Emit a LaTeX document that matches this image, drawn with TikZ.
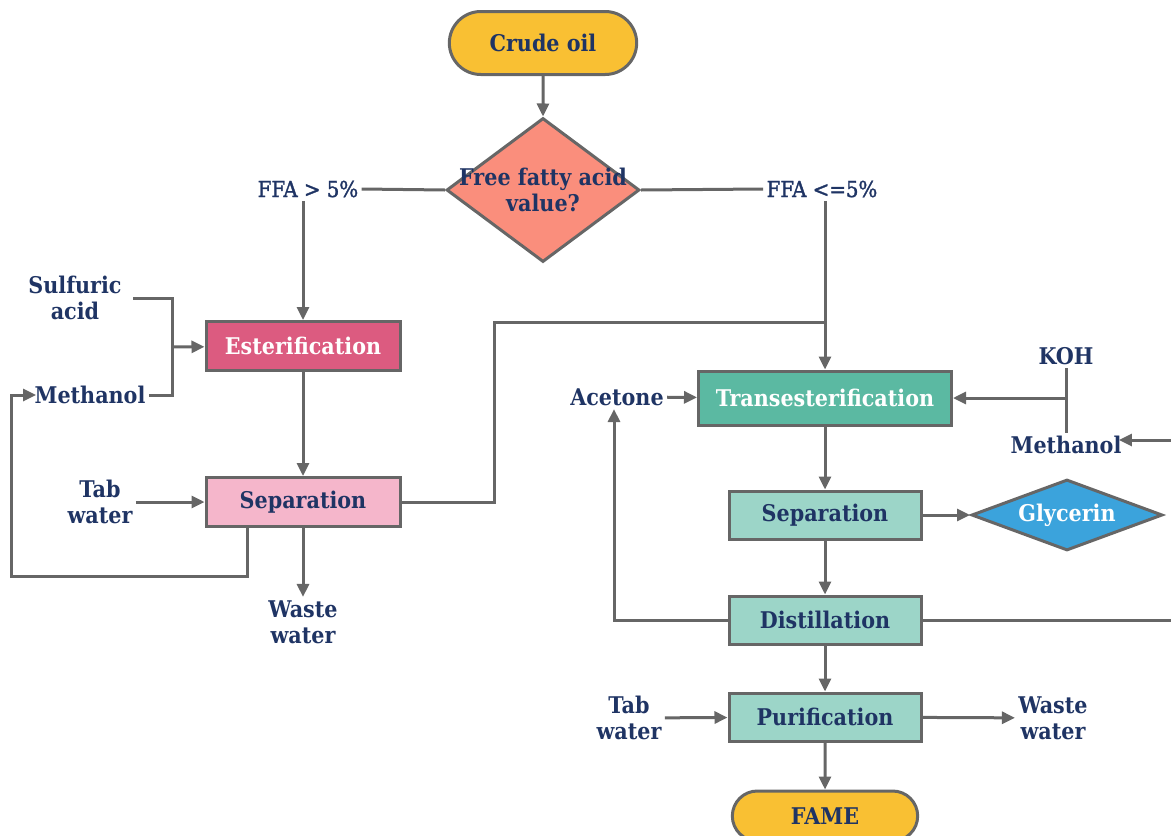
\documentclass[tikz,border=0pt]{standalone}
\usepackage{fontspec}
\setmainfont{DejaVu Serif Condensed}
\newfontfamily\medfont{DejaVu Serif Condensed}[FakeBold=1.5]
\usetikzlibrary{shapes, arrows.meta}

\definecolor{navy}{HTML}{1F3464}
\definecolor{linegray}{HTML}{666666}
\definecolor{oilyellow}{HTML}{F9C033}
\definecolor{salmon}{HTML}{FA8E7C}
\definecolor{rosered}{HTML}{DC5B80}
\definecolor{lightrose}{HTML}{F5B6CB}
\definecolor{teal}{HTML}{5BB9A2}
\definecolor{lightteal}{HTML}{9CD5C8}
\definecolor{skyblue}{HTML}{3BA3DC}

\newcommand\lbltxt{\fontsize{23}{26}\selectfont\bfseries}

\tikzset{
  flow/.style={draw=linegray, line width=3pt},
  arr/.style={flow, -{Triangle[length=13pt,width=12pt]}},
  box/.style={draw=linegray, line width=3pt, minimum width=194pt, minimum height=49pt, font=\lbltxt, text=navy},
  term/.style={box, rounded rectangle, minimum height=63pt},
  choice/.style={draw=linegray, line width=3pt, diamond, inner sep=0pt},
  lbl/.style={text=navy, align=center, font=\lbltxt},
  cond/.style={text=navy, font=\medfont\fontsize{22}{26}\selectfont},
}

\begin{document}
\begin{tikzpicture}[x=1pt, y=-1pt]
\useasboundingbox (0,0) rectangle (1171,836);

\node[term, fill=oilyellow] (co) at (543,43) {Crude oil};
\node[choice, fill=salmon, minimum width=193pt, minimum height=144pt,
  label={[lbl]center:Free fatty acid\\value?}] (dv) at (543,190) {};
\node[cond] (fl) at (308,189) {FFA > 5\%};
\node[cond] (fr) at (822,189) {FFA <=5\%};

\node[box, fill=rosered, text=white] (es) at (303,346) {Esterification};
\node[box, fill=lightrose] (sl) at (303,502) {Separation};
\node[lbl] (sa) at (75,298) {Sulfuric\\acid};
\node[lbl] (ml) at (90,395) {Methanol};
\node[lbl] (tl) at (100,502) {Tab\\water};
\node[lbl] (wl) at (303,622) {Waste\\water};

\node[box, fill=teal, text=white, minimum width=253pt, minimum height=54pt] (tr) at (825,398) {Transesterification};
\node[lbl] (ac) at (617,397) {Acetone};
\node[lbl] (ko) at (1066,356) {KOH};
\node[lbl] (mr) at (1066,445) {Methanol};
\node[box, fill=lightteal, minimum width=192pt, minimum height=48pt] (sr) at (825,515) {Separation};
\node[choice, fill=skyblue, minimum width=191pt, minimum height=71pt,
  label={[lbl, text=white]center:Glycerin}] (gl) at (1067,515) {};
\node[box, fill=lightteal, minimum width=192pt, minimum height=48pt] (di) at (825,620) {Distillation};
\node[box, fill=lightteal, minimum width=192pt, minimum height=48pt] (pu) at (825,717) {Purification};
\node[lbl] (tw) at (629,718) {Tab\\water};
\node[lbl] (ww) at (1053,718) {Waste\\water};
\node[term, fill=oilyellow, minimum width=192pt, minimum height=50pt] (fa) at (825,816) {FAME};

\coordinate (j1) at (172,347);
\coordinate (j2) at (494,322);
\coordinate (j3) at (1066,398);
\coordinate (j4) at (614,620);
\coordinate (lp) at (11,576);
\coordinate (e1) at (1171,440);
\coordinate (e2) at (1171,620);

% decision
\draw[arr] (co) -- (dv);
\draw[flow] (dv.west) -- (fl.east) (dv.east) -- (fr.west);
\draw[arr] (fl.south -| es.north) -- (es.north);
\draw[arr] (fr.south -| tr.north) -- (tr.north);

% esterification branch
\draw[flow] ([xshift=8pt]sa.east) -| (j1) (ml.east) -| (j1);
\draw[arr] (j1) -- (es);
\draw[arr] (es) -- (sl);
\draw[arr] (tl) -- (sl);
\draw[arr] (sl) -- (wl);
\draw[arr] ([xshift=-56pt]sl.south) |- (lp) |- ([xshift=5pt]ml.west);
\draw[flow] (sl.east) -| (j2) -- (j2 -| tr.north);

% transesterification branch
\draw[arr] (ac) -- (tr);
\draw[flow] (ko.south) -- (mr.north);
\draw[arr] (j3) -- (tr.east);
\draw[arr] (e1) -- ([xshift=-6pt]mr.east |- e1);
\draw[arr] (tr) -- (sr);
\draw[arr] (sr) -- (gl);
\draw[arr] (sr) -- (di);
\draw[arr] (di.west) -- (j4) -- (ac.south -| j4);
\draw[flow] (di.east) -- (e2);
\draw[arr] (di) -- (pu);
\draw[arr] (tw) -- (pu);
\draw[arr] (pu) -- (ww);
\draw[arr] (pu) -- (fa);
\end{tikzpicture}
\end{document}
